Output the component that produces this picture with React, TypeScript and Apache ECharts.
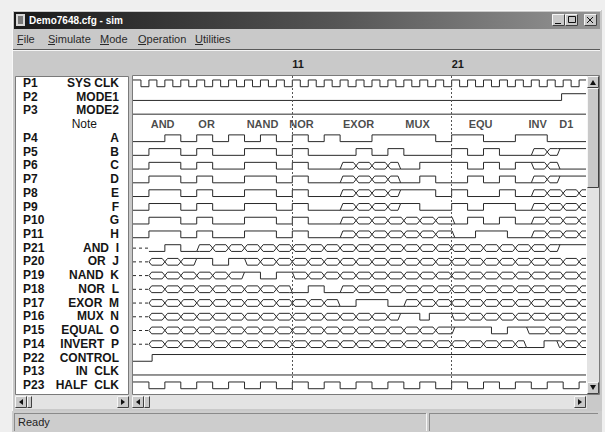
import React, { useEffect, useRef } from 'react';
import * as echarts from 'echarts';

// ---------- data ----------
const pinLabels = ['P1','P2','P3','','P4','P5','P6','P7','P8','P9','P10','P11','P21','P20','P19','P18','P17','P16','P15','P14','P22','P13','P23'];
const signalNames = ['SYS CLK','MODE1','MODE2','Note','A','B','C','D','E','F','G','H','AND  I','OR  J','NAND  K','NOR  L','EXOR  M','MUX  N','EQUAL  O','INVERT  P','CONTROL','IN  CLK','HALF  CLK'];
const noteTexts = ['AND','OR','NAND','NOR','EXOR','MUX','EQU','INV','D1'];
const notePositions = [2.86, 5.62, 9.13, 11.58, 15.16, 18.86, 22.82, 26.4, 28.2];
const markerTicks = [11, 21];
const menuItems = ['File','Simulate','Mode','Operation','Utilities'];

const sysClkRise = [1,2,3,4,5,6,7,8,9,10,11,12,13,14,15,16,17,18,19,20,21,22,23,24,25,26,27,28,29];
const sysClkFall = [1.5,2.5,3.5,4.5,5.5,6.5,7.5,8.5,9.5,10.5,11.5,12.5,13.5,14.5,15.5,16.5,17.5,18.5,19.5,20.5,21.5,22.5,23.5,24.5,25.5,26.5,27.5,28.5,29.5];
const halfClkRise = [1,3,5,7,9,11,13,15,17,19,21,23,25,27,29];
const halfClkFall = [2,4,6,8,10,12,14,16,18,20,22,24,26,28,30];

type Tr = [number, string];
const mode1: Tr[] = [[1,'L'],[27.9,'H']];
const mode2: Tr[] = [[1,'L']];
const sigA: Tr[] = [[1,'L'],[3,'H'],[4,'L'],[5,'H'],[6,'L'],[7,'H'],[8,'L'],[9,'H'],[10,'L'],[11,'H'],[12,'L'],[13,'H'],[14,'L'],[16,'H'],[20,'L'],[21,'H'],[23,'L'],[25,'H'],[27,'L']];
const inputPrefix: Tr[] = [[1,'L'],[2,'H'],[4,'L'],[5,'H'],[6,'L'],[8,'H'],[10,'L'],[11,'H'],[12,'L']];
const sigB: Tr[] = [...inputPrefix,[15,'H'],[16,'L'],[17,'H'],[18,'L'],[21,'H'],[22,'L'],[23,'H'],[24,'L'],[26,'X'],[27.8,'H']];
const sigC: Tr[] = [...inputPrefix,[14,'X'],[17.8,'L'],[19,'H'],[22,'L'],[23,'H'],[24,'L'],[25,'H'],[26,'X'],[27.8,'L']];
const sigD: Tr[] = [...inputPrefix,[14,'X'],[17.8,'L'],[19,'H'],[20,'L'],[22,'H'],[23,'L'],[24,'H'],[25,'L'],[26,'X'],[27.8,'H']];
const sigE: Tr[] = [...inputPrefix,[14,'X'],[17.8,'H'],[20,'L'],[21,'H'],[22,'L'],[24,'H'],[25,'L'],[26,'X']];
const sigF: Tr[] = [...inputPrefix,[14,'X'],[17.8,'H'],[19,'L'],[21,'H'],[22,'L'],[23,'H'],[25,'L'],[26,'X']];
const sigG: Tr[] = [...inputPrefix,[14,'X'],[21.2,'L'],[22,'H'],[23,'L'],[24,'H'],[25,'L'],[26,'X']];
const sigH: Tr[] = [...inputPrefix,[14,'X'],[21.2,'L'],[22.5,'H'],[24.5,'L'],[26,'X']];
const sigI: Tr[] = [[1,'U'],[2,'L'],[3,'H'],[4,'L'],[5,'X'],[27.8,'H']];
const sigJ: Tr[] = [[1,'U'],[2,'X'],[5,'H'],[6,'L'],[7,'H'],[8,'X']];
const sigK: Tr[] = [[1,'U'],[2,'X'],[8,'H'],[9,'L'],[10,'H'],[11,'X']];
const sigL: Tr[] = [[1,'U'],[2,'X'],[11,'L'],[12,'H'],[13,'L'],[14,'X']];
const sigM: Tr[] = [[1,'U'],[2,'X'],[14,'L'],[15,'H'],[17,'L'],[18,'X']];
const sigN: Tr[] = [[1,'U'],[2,'X'],[17.8,'H'],[19,'L'],[19.6,'H'],[21,'X']];
const sigO: Tr[] = [[1,'U'],[2,'X'],[21.2,'H'],[23.5,'L'],[24.5,'H'],[25.7,'X']];
const sigP: Tr[] = [[1,'U'],[2,'X'],[25.7,'L'],[26.8,'H'],[27.6,'X']];
const control: Tr[] = [[1,'L'],[2.2,'H']];
const inClk: Tr[] = [[1,'L']];

const T_END = 29.5;

function clockTr(rise: number[], fall: number[]): Tr[] {
  const out: Tr[] = [];
  rise.forEach((r, i) => { out.push([r, 'H']); out.push([fall[i], 'L']); });
  return out;
}

const rows: Tr[][] = [
  clockTr(sysClkRise, sysClkFall), mode1, mode2, [],
  sigA, sigB, sigC, sigD, sigE, sigF, sigG, sigH,
  sigI, sigJ, sigK, sigL, sigM, sigN, sigO, sigP,
  control, inClk, clockTr(halfClkRise, halfClkFall),
];

// ---------- geometry helpers (style only) ----------
const HI = -0.22, LO = 0.27, MID = 0.03, D = 0.17;
const INK = '#2a2a2a';
const FONT = '"Liberation Sans", Arial, sans-serif';

function buildPaths(row: number, tr: Tr[]) {
  const segs = tr.filter(t => t[0] < T_END).map((t, i, arr) => [t[0], i + 1 < arr.length ? arr[i + 1][0] : T_END, t[1]] as [number, number, string]);
  const solid: number[][][] = [];
  const dashed: number[][][] = [];
  const hi = row + HI, lo = row + LO, mid = row + MID;
  let cur: number[][] | null = null;
  let prevY: number | null = null;
  segs.forEach(([a, b, s], i) => {
    const next = segs[i + 1];
    if (s === 'H' || s === 'L') {
      const y = s === 'H' ? hi : lo;
      if (!cur) cur = [[a, y]]; else cur.push([a, y]);
      cur.push([b, y]);
      prevY = y;
    } else {
      if (cur) { solid.push(cur); cur = null; }
      if (s === 'U') { dashed.push([[a, mid], [b, mid]]); prevY = mid; return; }
      const startY = prevY === null ? mid : prevY;
      let endY: number | null = null;
      if (next && (next[2] === 'H' || next[2] === 'L')) endY = next[2] === 'H' ? hi : lo;
      const top = [[a, startY], [a + D, hi]];
      const bot = [[a, startY], [a + D, lo]];
      let up = true;
      for (let k = Math.ceil(a + 2 * D); k < b - 2 * D; k++) {
        top.push([k - D, up ? hi : lo], [k + D, up ? lo : hi]);
        bot.push([k - D, up ? lo : hi], [k + D, up ? hi : lo]);
        up = !up;
      }
      if (endY !== null) { top.push([b - D, up ? hi : lo], [b, endY]); bot.push([b - D, up ? lo : hi], [b, endY]); }
      else { top.push([b, up ? hi : lo]); bot.push([b, up ? lo : hi]); }
      solid.push(top, bot);
      prevY = endY === null ? mid : endY;
    }
  });
  if (cur) solid.push(cur);
  return { solid, dashed };
}

function rect(x: number, y: number, w: number, h: number, fill: any, stroke?: string, z = -5) {
  return { type: 'rect', z, silent: true, shape: { x, y, width: w, height: h }, style: { fill, stroke: stroke || null, lineWidth: 1 } };
}
function ln(x1: number, y1: number, x2: number, y2: number, color: string, z = -4) {
  return { type: 'line', z, silent: true, shape: { x1, y1, x2, y2 }, style: { stroke: color, lineWidth: 1 } };
}
function txt(x: number, y: number, text: string, extra: any = {}) {
  return { type: 'text', z: -3, silent: true, x, y, style: { text, fill: '#222', font: `11px ${FONT}`, verticalAlign: 'middle', ...extra } };
}
function bevel(x: number, y: number, w: number, h: number) {
  return [
    rect(x, y, w, h, '#c9c9c9', undefined, -4),
    ln(x + 0.5, y + 0.5, x + w - 0.5, y + 0.5, '#f6f6f6', -3),
    ln(x + 0.5, y + 0.5, x + 0.5, y + h - 0.5, '#f6f6f6', -3),
    ln(x + 0.5, y + h - 0.5, x + w - 0.5, y + h - 0.5, '#404040', -3),
    ln(x + w - 0.5, y + 0.5, x + w - 0.5, y + h - 0.5, '#404040', -3),
  ];
}
function arrow(points: number[][]) {
  return { type: 'polygon', z: -2, silent: true, shape: { points }, style: { fill: '#111' } };
}

function buildOption() {
  const series: any[] = [];
  rows.forEach((tr, row) => {
    const { solid, dashed } = buildPaths(row, tr);
    solid.forEach(p => series.push({ type: 'line', data: p, symbol: 'none', showSymbol: false, silent: true, clip: true, lineStyle: { color: INK, width: 1 } }));
    dashed.forEach(p => series.push({ type: 'line', data: p, symbol: 'none', showSymbol: false, silent: true, clip: true, lineStyle: { color: INK, width: 1, type: [3, 3] } }));
  });
  series[0].markLine = {
    symbol: 'none', silent: true, label: { show: false },
    lineStyle: { color: '#555', width: 1, type: [2, 2] },
    data: markerTicks.map(t => ({ xAxis: t })),
  };
  series.push({
    type: 'scatter', symbolSize: 1, silent: true, itemStyle: { color: 'rgba(0,0,0,0)' },
    data: noteTexts.map((t, i) => [notePositions[i], 3, t]),
    label: { show: true, position: 'inside', formatter: (p: any) => p.data[2], color: '#1a1a1a', fontSize: 11, fontWeight: 'bold', fontFamily: FONT },
  });

  const menuX = [17, 48, 100, 138, 195];
  const menuW = [6, 7, 9, 8, 8];
  const graphics: any[] = [
    rect(0, 0, 605, 432, '#efefef', undefined, -9),
    rect(12, 10, 590, 422, '#c9c9c9', undefined, -8),
    ln(12.5, 10.5, 601, 10.5, '#f8f8f8', -7),
    ln(12.5, 10.5, 12.5, 432, '#f8f8f8', -7),
    rect(14, 12, 586, 17, new echarts.graphic.LinearGradient(0, 0, 1, 0, [{ offset: 0, color: '#1a1a1a' }, { offset: 0.55, color: '#555555' }, { offset: 1, color: '#959595' }]), undefined, -6),
    rect(16, 14, 9, 12, '#d8d8d8', undefined, -4),
    rect(18, 16, 5, 8, '#7a7a7a', undefined, -3),
    txt(29, 20.5, 'Demo7648.cfg - sim', { fill: '#ffffff', font: `bold 10px ${FONT}` }),
    ...bevel(552, 14, 13, 12), ...bevel(565, 14, 13, 12), ...bevel(584, 14, 13, 12),
    ln(555, 23.5, 561, 23.5, '#111', -2),
    rect(568.5, 16.5, 7, 6, null, '#111', -2),
    ln(587, 17, 593, 23, '#111', -2), ln(593, 17, 587, 23, '#111', -2),
    ...menuItems.map((m, i) => txt(menuX[i], 39, m, { fill: '#2a2a2a' })),
    ...menuItems.map((m, i) => ln(menuX[i], 44.5, menuX[i] + menuW[i], 44.5, '#2a2a2a')),
    ln(13, 49.5, 600, 49.5, '#5a5a5a'),
    ln(13, 50.5, 600, 50.5, '#f4f4f4'),
    // label panel
    rect(15.5, 76.5, 113, 318, '#ffffff', '#7a7a7a', -5),
    // waveform panel
    rect(132.5, 75.5, 467, 319, '#ffffff', '#7a7a7a', -5),
    // vertical scrollbar
    rect(587, 76, 12, 318, '#e3e3e3', undefined, -4),
    ...bevel(587, 76, 12, 12), arrow([[590, 85], [596, 85], [593, 80]]),
    ...bevel(587, 88, 12, 100),
    ...bevel(587, 382, 12, 12), arrow([[590, 385], [596, 385], [593, 390]]),
    // horizontal scroll rows
    rect(15, 395, 114, 14, '#e3e3e3', undefined, -4),
    ...bevel(15, 396, 12, 12), arrow([[23, 399], [23, 405], [19, 402]]),
    ...bevel(27, 396, 5, 12),
    ...bevel(117, 396, 12, 12), arrow([[121, 399], [121, 405], [125, 402]]),
    rect(132, 395, 455, 14, '#e3e3e3', undefined, -4),
    ...bevel(132, 396, 12, 12), arrow([[140, 399], [140, 405], [136, 402]]),
    ...bevel(144, 396, 6, 12),
    ...bevel(574, 396, 12, 12), arrow([[578, 399], [578, 405], [582, 402]]),
    // status bar
    rect(12, 411, 590, 21, '#cdcdcd', undefined, -5),
    ln(14, 413.5, 426, 413.5, '#8a8a8a'), ln(14.5, 413.5, 14.5, 431, '#8a8a8a'), ln(426.5, 413.5, 426.5, 431, '#f6f6f6'),
    ln(429, 413.5, 598, 413.5, '#8a8a8a'), ln(429.5, 413.5, 429.5, 431, '#8a8a8a'),
    txt(18, 422, 'Ready', { fill: '#222' }),
  ];

  const lab = { fontSize: 12, fontWeight: 'bold', color: '#151515', fontFamily: FONT };
  return {
    animation: false,
    backgroundColor: '#efefef',
    grid: { left: 133, top: 76, width: 452, height: 316, containLabel: false },
    xAxis: [
      { type: 'value', min: 1, max: 29.37, show: false },
      {
        type: 'value', min: 1, max: 29.37, position: 'top',
        axisLine: { show: false }, axisTick: { show: false }, splitLine: { show: false },
        axisLabel: { customValues: markerTicks, margin: 7, align: 'left', color: '#1a1a1a', fontSize: 11, fontWeight: 'bold', fontFamily: FONT, formatter: (v: number) => String(v) },
      },
    ],
    yAxis: {
      type: 'value', inverse: true, min: -0.51, max: 22.51,
      axisLine: { show: false }, axisTick: { show: false }, splitLine: { show: false },
      axisLabel: {
        customValues: signalNames.map((_, i) => i),
        margin: 14,
        color: '#151515',
        fontFamily: FONT,
        fontSize: 12,
        formatter: (v: number) => {
          const i = Math.round(v);
          if (signalNames[i] === 'Note') return '{nn|Note}{sp| }';
          return `{p|${pinLabels[i]}}{n|${signalNames[i]}}`;
        },
        rich: {
          p: { ...lab, width: 30, align: 'left' },
          n: { ...lab, width: 66, align: 'right' },
          nn: { ...lab, fontWeight: 'normal', width: 74, align: 'right' },
          sp: { fontSize: 11, width: 22 },
        },
      },
    },
    graphic: { elements: graphics },
    series,
  };
}

export default function App() {
  const ref = useRef<HTMLDivElement>(null);
  useEffect(() => {
    const chart = echarts.init(ref.current!, null, { renderer: 'svg' });
    chart.setOption(buildOption() as any);
    return () => chart.dispose();
  }, []);
  return <div ref={ref} style={{ position: 'fixed', left: 0, top: 0, width: 605, height: 432 }} />;
}
